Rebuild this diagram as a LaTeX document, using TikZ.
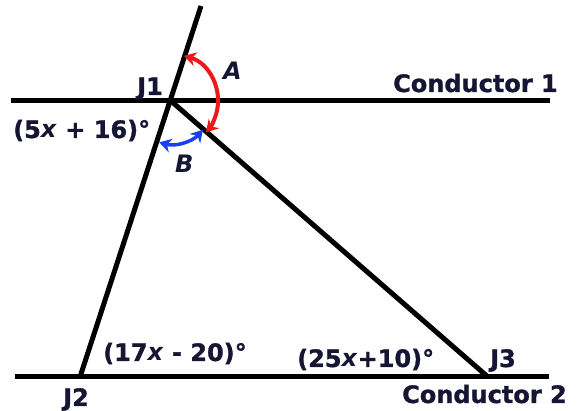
\documentclass[tikz,border=0pt]{standalone}
\usepackage{fontspec}
\setmainfont{DejaVu Sans}[BoldFeatures={FakeBold=1.2}]
\usetikzlibrary{arrows.meta}
\definecolor{labelnavy}{RGB}{22,22,52}
\definecolor{arcred}{RGB}{238,24,24}
\definecolor{arcblue}{RGB}{24,64,238}
\tikzset{
  wire/.style={line width=5pt},
  lbl/.style={anchor=base west, inner sep=0pt, text=labelnavy, font=\bfseries\fontsize{24}{24}\selectfont},
  anglemark/.style={line width=4pt, {Stealth[length=12pt,width=14pt]}-{Stealth[length=12pt,width=14pt]}}
}
\begin{document}
\begin{tikzpicture}[x=1pt,y=-1pt]
\useasboundingbox (0,0) rectangle (587,411);
% junctions and wire ends
\coordinate (top) at (201,6);
\coordinate (J1) at (171,101);
\coordinate (J2) at (80,377);
\coordinate (J3) at (488,377);
\coordinate (c1w) at (11,101);
\coordinate (c1e) at (550,101);
\coordinate (c2w) at (15,377);
\coordinate (c2e) at (549,377);
\draw[wire] (c1w) -- (c1e);
\draw[wire] (c2w) -- (c2e);
\draw[wire] (top) -- (J2);
\draw[wire] (J1) -- (J3);
% angle marks at J1
\draw[anglemark, draw=arcred] ([shift={(74:47pt)}]J1) arc[start angle=74, end angle=-42, radius=47pt];
\draw[anglemark, line width=3.5pt, draw=arcblue] ([shift={(254:43pt)}]J1) arc[start angle=254, end angle=318, radius=43pt];
% labels
\node[lbl] (labJ1) at (137,95) {J1};
\node[lbl] (labA) at (223,80) {\itshape A};
\node[lbl] (labC1) at (393,92) {Conductor 1};
\node[lbl] (labJ1ang) at (13,138) {(5\textit{x} + 16)°};
\node[lbl] (labB) at (175,173) {\itshape B};
\node[lbl] (labJ2ang) at (103,361) {(17\textit{x} - 20)°};
\node[lbl] (labJ2) at (63,406) {J2};
\node[lbl] (labJ3ang) at (297,367) {(25\textit{x}+10)°};
\node[lbl] (labJ3) at (490,367) {J3};
\node[lbl] (labC2) at (402,403) {Conductor 2};
\end{tikzpicture}
\end{document}
